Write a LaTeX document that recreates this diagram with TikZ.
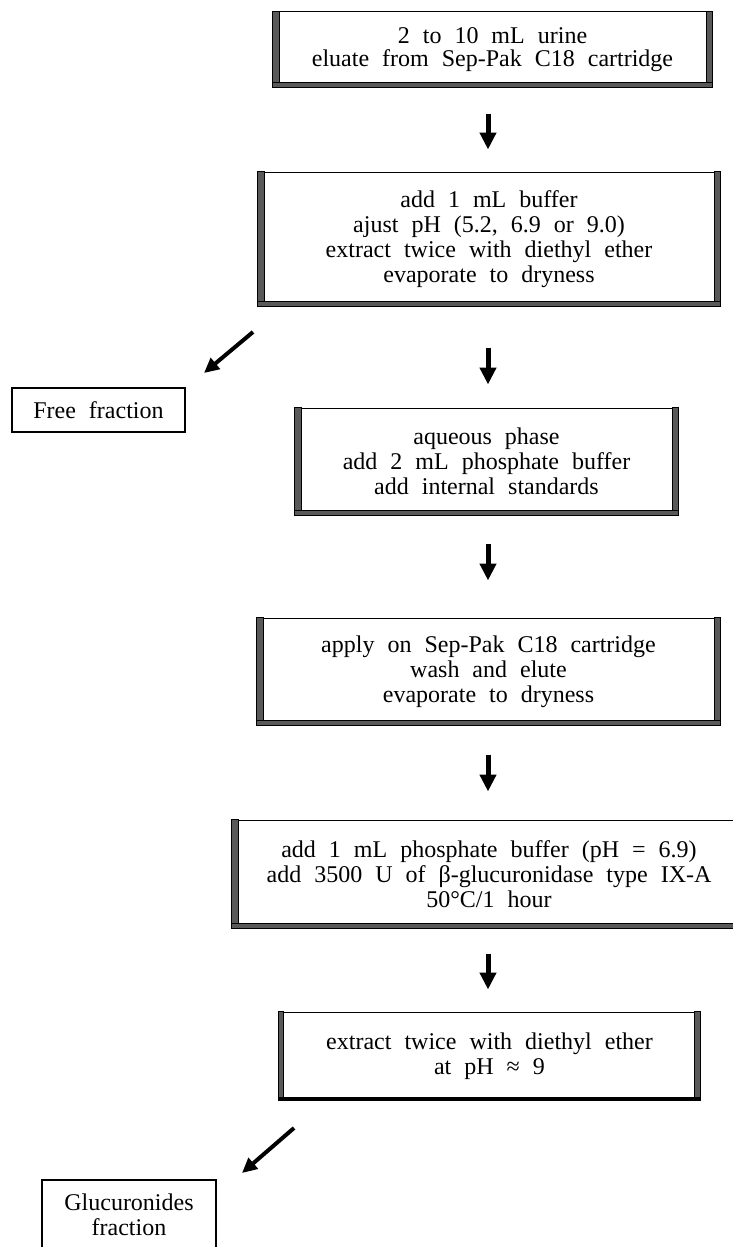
\documentclass[tikz,border=0pt]{standalone}
\usepackage{fontspec}
\setmainfont{Liberation Serif}
\usetikzlibrary{arrows.meta}
\newcommand\widesp{\spaceskip 13pt plus 2pt minus 2pt\relax}
\begin{document}
\begin{tikzpicture}[x=1pt,y=-1pt,
  stepbox/.style={draw=black, line width=1pt, inner sep=0pt, align=center,
    font={\fontsize{24}{25}\selectfont\widesp}},
  firstbox/.style={stepbox, font={\fontsize{24}{23}\selectfont\widesp}},
  heavy/.style={fill=black!65, draw=black, line width=0.8pt},
  arr/.style={line width=5pt, -{Triangle[width=16pt,length=17pt]}},
  darr/.style={line width=4pt, -{Triangle[width=14pt,length=15pt]}}]
\useasboundingbox (0,0) rectangle (733,1247);
\clip (0,0) rectangle (733,1247);

% boxes
\node[firstbox, minimum width=439pt, minimum height=75pt] (b1) at (492.5,49.5)
  {2 to 10 mL urine\\eluate from Sep-Pak C18 cartridge};
\node[stepbox, minimum width=462pt, minimum height=134pt] (b2) at (489,239)
  {add 1 mL buffer\\ajust pH (5.2, 6.9 or 9.0)\\extract twice with diethyl ether\\evaporate to dryness};
\node[stepbox, minimum width=383pt, minimum height=107pt] (b3) at (486.5,461.5)
  {aqueous phase\\add 2 mL phosphate buffer\\add internal standards};
\node[stepbox, minimum width=463pt, minimum height=107pt] (b4) at (488.5,671.5)
  {apply on Sep-Pak C18 cartridge\\wash and elute\\evaporate to dryness};
\node[stepbox, minimum width=514pt, minimum height=108pt] (b5) at (489,874)
  {add 1 mL phosphate buffer (pH = 6.9)\\add 3500 U of β-glucuronidase type IX-A\\50°C/1 hour};
\node[stepbox, minimum width=421pt, minimum height=88pt] (b6) at (489.5,1056)
  {extract twice with diethyl ether\\at pH ≈ 9};
\node[stepbox, line width=1.2pt, minimum width=173pt, minimum height=44pt] (free) at (98.5,410)
  {Free fraction};
\node[stepbox, line width=1.2pt, minimum width=174pt, minimum height=70pt] (gluc) at (129,1215)
  {Glucuronides\\fraction};

% heavy (shadowed) sides
\foreach \n in {b1,b2,b3,b4}{
  \path[heavy] (\n.north west) rectangle ([xshift=7pt]\n.south west);
  \path[heavy] ([xshift=-6pt]\n.north east) rectangle (\n.south east);
  \path[heavy] ([yshift=5pt]\n.south west) rectangle (\n.south east);
}
\path[heavy] (b5.north west) rectangle ([xshift=7pt]b5.south west);
\path[heavy] ([yshift=5pt]b5.south west) rectangle (b5.south east);
\path[heavy] (b6.north west) rectangle ([xshift=5pt]b6.south west);
\path[heavy] ([xshift=-6pt]b6.north east) rectangle (b6.south east);
\path[fill=black] ([yshift=4pt]b6.south west) rectangle (b6.south east);

% vertical arrows
\coordinate (ax) at (488,0);
\draw[arr, shorten <=26pt, shorten >=22pt] (b1.south -| ax) -- (b2.north -| ax);
\draw[arr, shorten <=41pt, shorten >=23pt] (b2.south -| ax) -- (b3.north -| ax);
\draw[arr, shorten <=28pt, shorten >=37pt] (b3.south -| ax) -- (b4.north -| ax);
\draw[arr, shorten <=29pt, shorten >=28pt] (b4.south -| ax) -- (b5.north -| ax);
\draw[arr, shorten <=25pt, shorten >=22pt] (b5.south -| ax) -- (b6.north -| ax);

% diagonal arrows
\coordinate (fs) at (253,332);
\coordinate (fe) at (204,373);
\draw[darr] (fs) -- (fe);
\coordinate (gs) at (294,1128);
\coordinate (ge) at (242,1173);
\draw[darr] (gs) -- (ge);
\end{tikzpicture}
\end{document}
